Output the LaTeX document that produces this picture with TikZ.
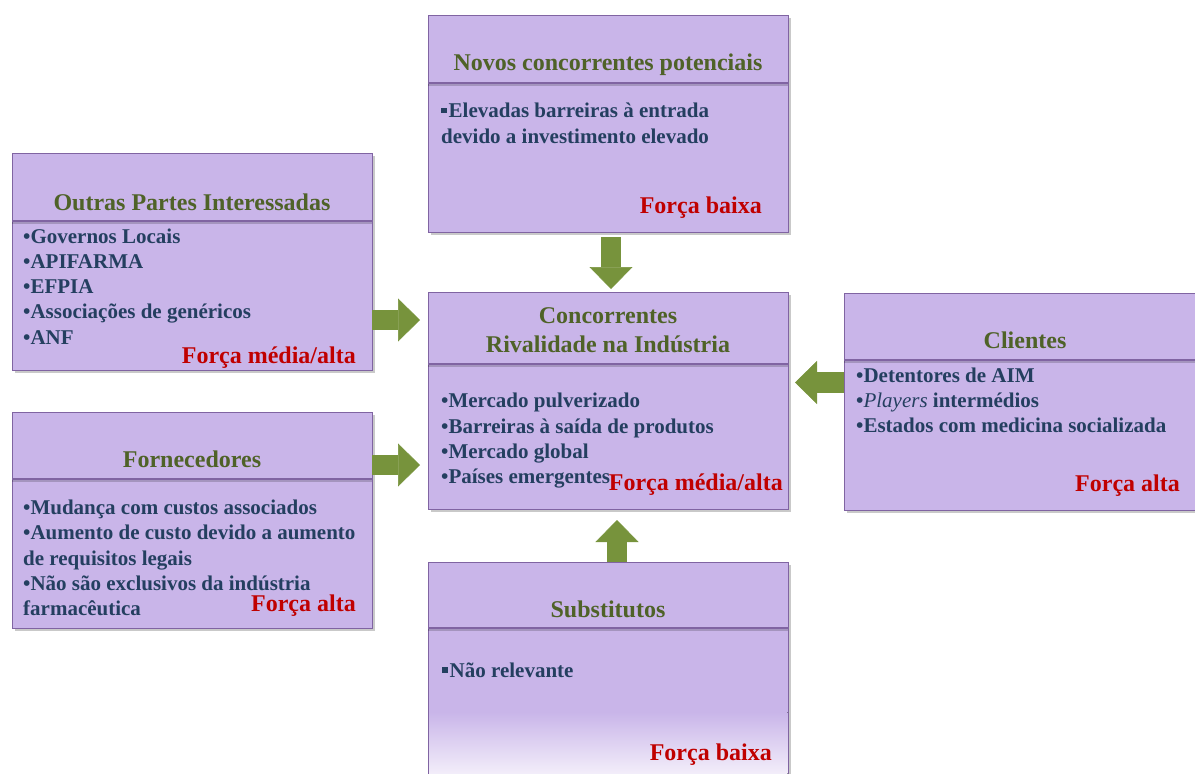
\documentclass[tikz,border=0pt]{standalone}
\usepackage{fontspec}
\setmainfont{Liberation Serif}
\usetikzlibrary{arrows.meta,shadows,calc}
\definecolor{boxfill}{RGB}{201,181,233}
\definecolor{boxline}{RGB}{128,100,162}
\definecolor{titlecol}{RGB}{79,98,40}
\definecolor{bodycol}{RGB}{36,63,96}
\definecolor{forcecol}{RGB}{192,0,0}
\definecolor{arrowcol}{RGB}{119,147,60}
\definecolor{fadecol}{RGB}{243,238,250}
\newcommand{\sqbul}{\raisebox{4.5pt}{\rule{5.5pt}{5.5pt}}\hspace{2pt}}
\begin{document}
\begin{tikzpicture}[x=1pt,y=-1pt,
 forcebox/.style={draw=boxline, line width=1pt, fill=boxfill, minimum width=360pt, minimum height=217pt, inner sep=0pt, outer sep=0pt,
   drop shadow={shadow xshift=2.5pt, shadow yshift=-2.5pt, opacity=0.3, fill=black!70}},
 divider/.style={draw=boxline, line width=1.3pt},
 divshadow/.style={draw=black, opacity=0.18, line width=2pt},
 titletext/.style={inner sep=0pt, anchor=base, align=center, text=titlecol, font=\fontsize{24}{29}\selectfont\bfseries},
 bodytext/.style={inner sep=0pt, anchor=base west, align=left, text=bodycol, font=\fontsize{21}{25.2}\selectfont\bfseries},
 forcetext/.style={inner sep=0pt, anchor=base east, text=forcecol, font=\fontsize{24}{29}\selectfont\bfseries},
 blockarrow/.style={draw=arrowcol, line width=20.5pt, -{Triangle[width=43pt,length=22pt,line width=0.5pt]}}
]
\useasboundingbox (0,0) rectangle (1195,774);
\clip (0,0) rectangle (1195,774);

% boxes
\node[forcebox] (nov) at (608,123.5) {};
\node[forcebox] (out) at (192,261.5) {};
\node[forcebox, minimum height=216pt] (forn) at (192,520) {};
\node[forcebox] (cen) at (608,400.5) {};
\node[forcebox, minimum width=362pt] (cli) at (1025,401.5) {};
\node[forcebox] (sub) at (608,670.5) {};

% fade at bottom of Substitutos
\fill[top color=boxfill, bottom color=fadecol] (428.5,712) rectangle (787.5,774);
\draw[boxline, line width=1pt] (sub.west |- 0,705) -- (sub.south west);
\draw[boxline, line width=1pt] (sub.east |- 0,705) -- (sub.south east);

% dividers
\foreach \n/\y in {nov/83,out/221,forn/479,cen/364,cli/360,sub/628}{
  \draw[divshadow] (\n.west |- 0,\y+2) -- (\n.east |- 0,\y+2);
  \draw[divider] (\n.west |- 0,\y) -- (\n.east |- 0,\y);
}

% titles (base anchor = baseline of last line)
\node[titletext] (novt) at (608,70) {Novos concorrentes potenciais};
\node[titletext] (outt) at (192,210) {Outras Partes Interessadas};
\node[titletext] (fornt) at (192,467) {Fornecedores};
\node[titletext] (cent) at (608,352) {Concorrentes\\Rivalidade na Indústria};
\node[titletext] (clit) at (1025,348) {Clientes};
\node[titletext] (subt) at (608,617) {Substitutos};

% bodies (base anchor = baseline of last line)
\node[bodytext] (novb) at (441,143) {\sqbul Elevadas barreiras à entrada\\devido a investimento elevado};
\node[bodytext] (outb) at (23,344) {•Governos Locais\\•APIFARMA\\•EFPIA\\•Associações de genéricos\\•ANF};
\node[bodytext] (fornb) at (23,615.5) {•Mudança com custos associados\\•Aumento de custo devido a aumento\\de requisitos legais\\•Não são exclusivos da indústria\\farmacêutica};
\node[bodytext] (cenb) at (441,483.5) {•Mercado pulverizado\\•Barreiras à saída de produtos\\•Mercado global\\•Países emergentes};
\node[bodytext] (clib) at (856,432.5) {•Detentores de AIM\\•{\mdseries\itshape Players} intermédios\\•Estados com medicina socializada};
\node[bodytext] (subb) at (442,677) {\sqbul Não relevante};

% forces
\node[forcetext] (novf) at (762,213) {Força baixa};
\node[forcetext] (outf) at (356,363) {Força média/alta};
\node[forcetext] (fornf) at (356,611) {Força alta};
\node[forcetext] (cenf) at (783,490) {Força média/alta};
\node[forcetext] (clif) at (1180,491) {Força alta};
\node[forcetext] (subf) at (772,760) {Força baixa};

% arrows
\draw[blockarrow] ([xshift=3pt,yshift=-5pt]nov.south) -- ([xshift=3pt,yshift=3pt]cen.north);
\draw[blockarrow] ([xshift=9pt]sub.north) -- ([xshift=9pt,yshift=-11pt]cen.south);
\draw[blockarrow] (out.east |- 0,320) -- ([xshift=-8pt]cen.west |- 0,320);
\draw[blockarrow] (forn.east |- 0,465) -- ([xshift=-8pt]cen.west |- 0,465);
\draw[blockarrow] (cli.west |- 0,382.5) -- ([xshift=7pt]cen.east |- 0,382.5);
\end{tikzpicture}
\end{document}
